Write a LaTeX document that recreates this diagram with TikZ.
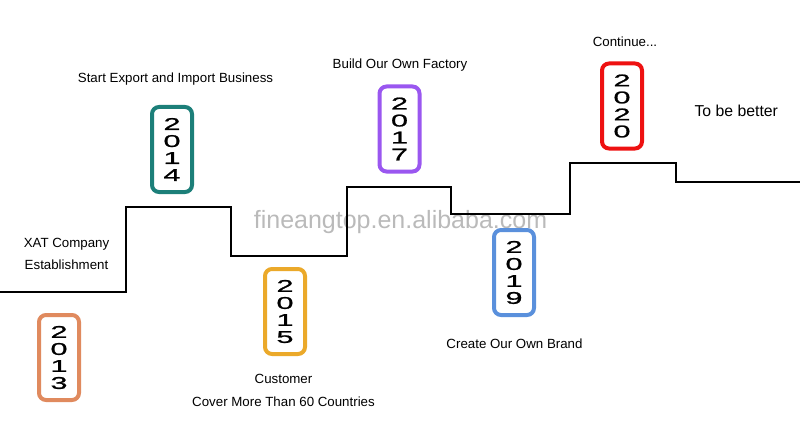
\documentclass[tikz,border=0pt]{standalone}
\usepackage{fontspec}
\setmainfont{Liberation Sans}
\newfontfamily\yearfont[FakeStretch=1.8,FakeBold=1.2]{Liberation Sans}
\definecolor{c2013}{HTML}{E08A5E}
\definecolor{c2014}{HTML}{1C7F79}
\definecolor{c2015}{HTML}{EBA92A}
\definecolor{c2017}{HTML}{9A57F0}
\definecolor{c2019}{HTML}{5A90DC}
\definecolor{c2020}{HTML}{EE1111}
\begin{document}
\begin{tikzpicture}[x=1pt,y=-1pt,
    yearbox/.style={draw=#1, line width=4pt, rounded corners=7pt, fill=white,
      minimum width=40pt, minimum height=85pt, inner sep=0pt, align=center,
      font=\yearfont\fontsize{17}{17}\selectfont},
    note/.style={anchor=base, font=\fontsize{13.3}{16}\selectfont}]
    \useasboundingbox (0,0) rectangle (800,441);
    % watermark
    \node[anchor=base, text=black!27, font=\fontsize{25}{25}\selectfont] (mark) at (400.5,228) {fineangtop.en.alibaba.com};
    % steps
    \draw[line width=1.8pt] (0,292) -- (126,292) -- (126,207) -- (231,207) -- (231,256)
        -- (347,256) -- (347,187) -- (451,187) -- (451,214) -- (570,214)
        -- (570,163) -- (676,163) -- (676,182) -- (800,182);
    % years
    \node[yearbox=c2013] (y2013) at (59,357.5) {2\\0\\1\\3};
    \node[yearbox=c2014] (y2014) at (172,149.5) {2\\0\\1\\4};
    \node[yearbox=c2015] (y2015) at (285,311.5) {2\\0\\1\\5};
    \node[yearbox=c2017] (y2017) at (399.5,129) {2\\0\\1\\7};
    \node[yearbox=c2019] (y2019) at (514,272.5) {2\\0\\1\\9};
    \node[yearbox=c2020] (y2020) at (622,106) {2\\0\\2\\0};
    % texts
    \node[note] (xat) at (66.5,247) {XAT Company};
    \node[note] (estab) at (66.5,269) {Establishment};
    \node[note] (export) at (175.5,83) {Start Export and Import Business};
    \node[note] (customer) at (283.5,383) {Customer};
    \node[note] (cover) at (283.5,406) {Cover More Than 60 Countries};
    \node[note] (factory) at (400,69) {Build Our Own Factory};
    \node[note] (brand) at (514.5,348) {Create Our Own Brand};
    \node[note] (cont) at (625,47) {Continue...};
    \node[note, anchor=base west, font=\fontsize{15.8}{18}\selectfont] (better) at (691,117) {To be better};
\end{tikzpicture}
\end{document}
